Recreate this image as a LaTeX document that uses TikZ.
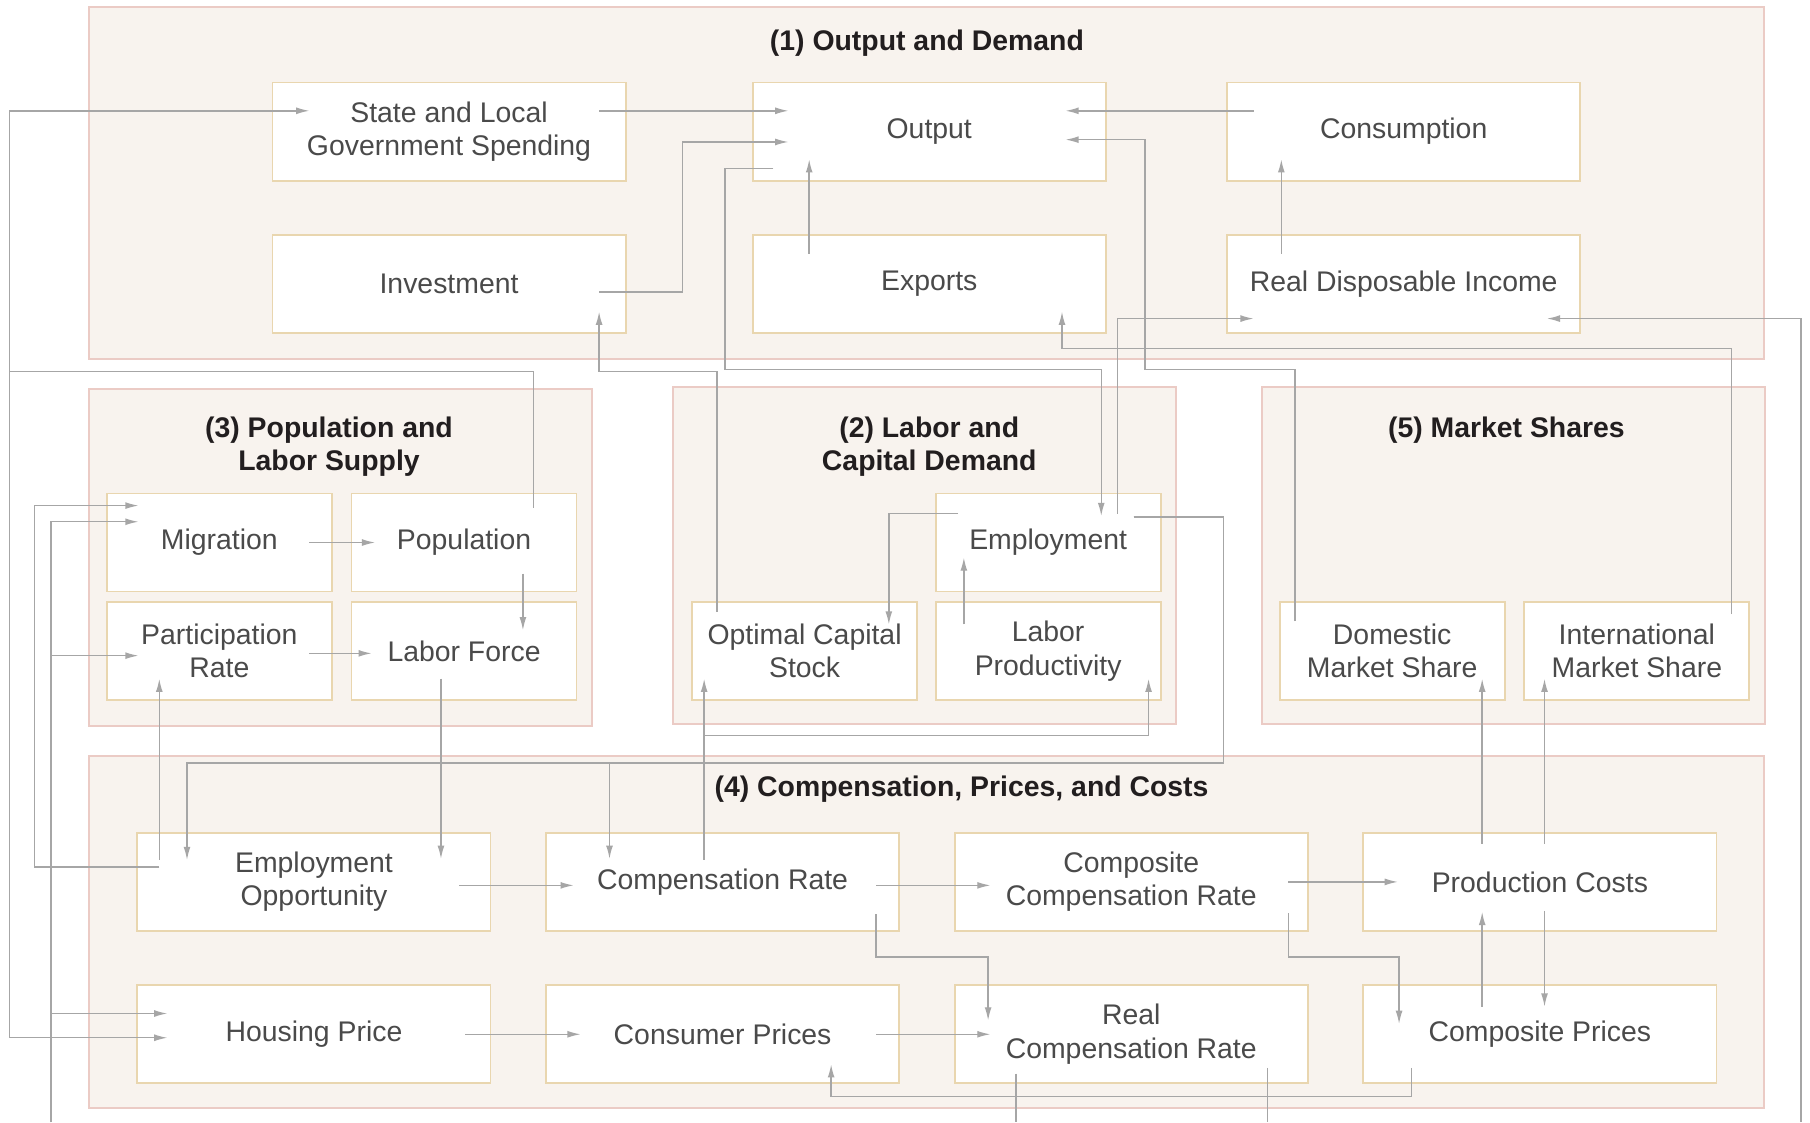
\documentclass[tikz,border=0pt]{standalone}
\usepackage{fontspec}
\setmainfont{Liberation Sans}
\usetikzlibrary{arrows.meta}

\tikzset{
    panel/.style={draw=panelBorder, fill=panelFill, line width=0.8pt},
    box/.style={draw=boxBorder, fill=white, line width=0.9pt, minimum height=1.7cm,
        inner sep=0pt, align=center, text=boxText, font=\fontsize{14}{16.5}\selectfont},
    bigbox/.style={box, minimum width=6.12cm},
    smallbox/.style={box, minimum width=3.9cm},
    title/.style={align=center, text=titleText, font=\fontsize{14}{16.5}\selectfont\bfseries},
    wire/.style={draw=linkColour, line width=0.7pt},
    link/.style={wire, -{Latex[length=6.5pt,width=3.4pt]}}
}

\begin{document}
\begin{tikzpicture}[x=0.02cm, y=-0.02cm]
    % Define colours
    \definecolor{panelFill}{HTML}{F8F3EE}
    \definecolor{panelBorder}{HTML}{EBCBC5}
    \definecolor{boxBorder}{HTML}{E9D6AF}
    \definecolor{linkColour}{HTML}{A6A6A6}
    \definecolor{boxText}{HTML}{4A4A4A}
    \definecolor{titleText}{HTML}{221E1F}

    % Fix picture size
    \useasboundingbox (0,0) rectangle (1568,972);

    % Draw sector panels
    \draw[panel] (77,6) rectangle (1528,311);
    \draw[panel] (77,337) rectangle (513,629);
    \draw[panel] (583,335) rectangle (1019,627);
    \draw[panel] (1093,335) rectangle (1529,627);
    \draw[panel] (77,655) rectangle (1528,960);

    % Label sector panels
    \node[title] (t1) at (803,37) {(1) Output and Demand};
    \node[title] (t3) at (285,387) {(3) Population and\\Labor Supply};
    \node[title] (t2) at (805,387) {(2) Labor and\\Capital Demand};
    \node[title] (t5) at (1305,373) {(5) Market Shares};
    \node[title] (t4) at (833,684) {(4) Compensation, Prices, and Costs};

    % Draw boxes of sectors (1) and (4)
    \foreach \name/\x/\y/\txt in {sls/389/114/{State and Local\\Government Spending},
            out/805/114/Output, cons/1216/114/Consumption,
            inv/389/246/Investment, exp/805/246/Exports, rdi/1216/246/Real Disposable Income,
            eo/272/764/{Employment\\Opportunity}, cr/626/764/Compensation Rate,
            ccr/980/764/{Composite\\Compensation Rate}, pc/1334/764/Production Costs,
            hp/272/896/Housing Price, cp/626/896/Consumer Prices,
            rcr/980/896/{Real\\Compensation Rate}, cpr/1334/896/Composite Prices}
        \node[bigbox] (\name) at (\x,\y) {\txt};

    % Draw boxes of sectors (2), (3) and (5)
    \foreach \name/\x/\y/\txt in {mig/190/470/Migration, pop/402/470/Population,
            part/190/564/{Participation\\Rate}, lab/402/564/Labor Force,
            emp/908/470/Employment, ocs/697/564/{Optimal Capital\\Stock},
            prod/908/564/{Labor\\Productivity},
            dms/1206/564/{Domestic\\Market Share}, ims/1418/564/{International\\Market Share}}
        \node[smallbox] (\name) at (\x,\y) {\txt};

    % Define free ends at the bottom edge
    \coordinate (busL) at (44,972);
    \coordinate (busR) at (1560,972);

    % Draw links of sector (1)
    \draw[link] ([shift={(130,-18)}]sls.center) -- ([shift={(-122,-18)}]out.center);
    \draw[link] ([shift={(130,7)}]inv.center) -- ++(72,0) |- ([shift={(-122,9)}]out.center);
    \draw[link] ([shift={(-104,-26)}]exp.center) -- ([shift={(-104,24)}]out.center);
    \draw[link] ([shift={(-130,-18)}]cons.center) -- ([shift={(118,-18)}]out.center);
    \draw[link] ([shift={(-106,-26)}]rdi.center) -- ([shift={(-106,24)}]cons.center);

    % Draw links between sectors (1), (2) and (5)
    \draw[link] ([shift={(-135,32)}]out.center) -- ++(-42,0) -- ++(0,174) -| ([shift={(46,-23)}]emp.center);
    \draw[link] ([shift={(-84,-26)}]dms.center) |- (992,320) |- ([shift={(118,7)}]out.center);
    \draw[link] ([shift={(60,-25)}]emp.center) |- ([shift={(-130,30)}]rdi.center);
    \draw[link] ([shift={(82,-32)}]ims.center) -- ++(0,-230) -| ([shift={(115,24)}]exp.center);
    \draw[link] (busR) |- ([shift={(124,30)}]rdi.center);
    \draw[link] ([shift={(-76,-34)}]ocs.center) -- ++(0,-208) -| ([shift={(130,24)}]inv.center);

    % Draw links of sector (2)
    \draw[link] ([shift={(-78,-25)}]emp.center) -| ([shift={(73,-23)}]ocs.center);
    \draw[link] ([shift={(-73,-23)}]prod.center) -- ([shift={(-73,13)}]emp.center);
    \draw[link] ([shift={(74,-22)}]emp.center) -| (1060,661) -| ([shift={(-110,-19)}]eo.center);
    \draw[link] ([shift={(74,-22)}]emp.center) -| (1060,661) -| ([shift={(-98,-20)}]cr.center);
    \draw[link] ([shift={(-16,-19)}]cr.center) -- ([shift={(-87,24)}]ocs.center);
    \draw[link] ([shift={(-16,-19)}]cr.center) -- ++(0,-108) -| ([shift={(87,24)}]prod.center);

    % Draw links of sector (3)
    \draw[link] ([shift={(60,-30)}]pop.center) |- (8,322) |- ([shift={(-121,-18)}]sls.center);
    \draw[link] ([shift={(60,-30)}]pop.center) |- (8,322) |- ([shift={(-127,3)}]hp.center);
    \draw[link] ([shift={(78,0)}]mig.center) -- ([shift={(-77,0)}]pop.center);
    \draw[link] ([shift={(51,27)}]pop.center) -- ([shift={(51,-18)}]lab.center);
    \draw[link] ([shift={(78,2)}]part.center) -- ([shift={(-80,2)}]lab.center);
    \draw[link] ([shift={(-20,24)}]lab.center) -- ([shift={(110,-20)}]eo.center);
    \draw[link] ([shift={(-134,-19)}]eo.center) -- ([shift={(-52,24)}]part.center);
    \draw[link] ([shift={(-134,-13)}]eo.center) -- ++(-108,0) |- ([shift={(-70,-32)}]mig.center);
    \draw[link] (busL) |- ([shift={(-70,-18)}]mig.center);
    \draw[link] (busL) |- ([shift={(-70,4)}]part.center);
    \draw[link] (busL) |- ([shift={(-127,-18)}]hp.center);

    % Draw links of sector (4)
    \draw[link] ([shift={(126,3)}]eo.center) -- ([shift={(-129,3)}]cr.center);
    \draw[link] ([shift={(133,3)}]cr.center) -- ([shift={(-122,3)}]ccr.center);
    \draw[link] ([shift={(136,0)}]ccr.center) -- ([shift={(-123,0)}]pc.center);
    \draw[link] ([shift={(133,28)}]cr.center) -- ++(0,37) -| ([shift={(-124,-12)}]rcr.center);
    \draw[link] ([shift={(136,27)}]ccr.center) -- ++(0,38) -| ([shift={(-122,-9)}]cpr.center);
    \draw[link] ([shift={(-50,-33)}]pc.center) -- ([shift={(78,24)}]dms.center);
    \draw[link] ([shift={(4,-33)}]pc.center) -- ([shift={(-80,24)}]ims.center);
    \draw[link] ([shift={(-50,-24)}]cpr.center) -- ([shift={(-50,26)}]pc.center);
    \draw[link] ([shift={(4,25)}]pc.center) -- ([shift={(4,-24)}]cpr.center);
    \draw[link] ([shift={(131,0)}]hp.center) -- ([shift={(-123,0)}]cp.center);
    \draw[link] ([shift={(133,0)}]cp.center) -- ([shift={(-122,0)}]rcr.center);
    \draw[link] ([shift={(-111,29)}]cpr.center) -- ++(0,25) -| ([shift={(94,26)}]cp.center);
    \draw[wire] ([shift={(-100,34)}]rcr.center) -- ++(0,42);
    \draw[wire] ([shift={(118,29)}]rcr.center) -- ++(0,47);

\end{tikzpicture}
\end{document}
